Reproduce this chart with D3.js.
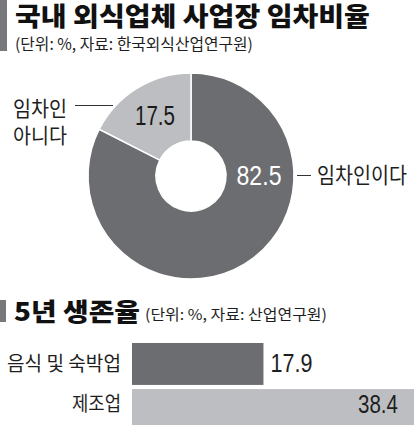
<!DOCTYPE html>
<html><head><meta charset="utf-8">
<script src="https://cdn.jsdelivr.net/npm/d3@7"></script>
<style>html,body{margin:0;padding:0;background:#fff;}svg{display:block;}</style>
</head><body>
<svg id="c" width="414" height="425"></svg>
<script>
const title1 = "국내 외식업체 사업장 임차비율";
const subtitle1 = "(단위: %, 자료: 한국외식산업연구원)";
const pieLabels = ["임차인이다", "임차인 아니다"];
const pieValues = [82.5, 17.5];
const title2 = "5년 생존율";
const subtitle2 = "(단위: %, 자료: 산업연구원)";
const barCategories = ["음식 및 숙박업", "제조업"];
const barValues = [17.9, 38.4];

const DARK = "#6c6d70", LIGHT = "#bdbec1", INK = "#1e1e1e";
const KR = "'Noto Sans CJK KR', 'Noto Sans', sans-serif";
const NUM = "'Liberation Sans Narrow', 'Liberation Sans', Arial, sans-serif";
const svg = d3.select("#c");

// draws text condensed horizontally to a target width via a scale transform
function txt(x, y, s, size, opts = {}) {
  const g = svg.append("g");
  const t = g.append("text").attr("x", 0).attr("y", 0).text(s)
    .attr("font-family", opts.family || KR).attr("font-size", size)
    .attr("font-weight", opts.weight || 400).attr("fill", opts.fill || INK)
    .attr("text-anchor", opts.anchor || "start");
  let sx = 1;
  if (opts.len) {
    const w = t.node().getComputedTextLength();
    if (w > 0) sx = opts.len / w;
  }
  g.attr("transform", `translate(${x},${y}) scale(${sx},1)`);
  return t;
}

// Section 1 header
svg.append("rect").attr("x", 0).attr("y", 0).attr("width", 7).attr("height", 51).attr("fill", "#77787b");
txt(15, 26, title1, 26, {weight: 900, fill: "#111", len: 355});
txt(15, 50, subtitle1, 16, {len: 238});

// Donut
const cx = 191, cy = 176, R = 103, r = 35;
const pie = d3.pie().sort(null).value(d => d);
const arc = d3.arc().innerRadius(r).outerRadius(R);
const g = svg.append("g").attr("transform", `translate(${cx},${cy})`);
g.selectAll("path").data(pie(pieValues)).join("path")
  .attr("d", arc).attr("fill", (d, i) => i === 0 ? DARK : LIGHT)
  .attr("stroke", "#fff").attr("stroke-width", 1.5);

// value labels
txt(259, 185, pieValues[0].toFixed(1), 27, {family: NUM, fill: "#fff", anchor: "middle", len: 45});
txt(155, 125, pieValues[1].toFixed(1), 27, {family: NUM, fill: "#1a1a1a", anchor: "middle", len: 40});

// leader lines and category labels
svg.append("line").attr("x1", 297).attr("x2", 311).attr("y1", 175.5).attr("y2", 175.5).attr("stroke", "#333").attr("stroke-width", 1);
txt(317, 183, pieLabels[0], 22, {len: 90});
svg.append("line").attr("x1", 75).attr("x2", 113).attr("y1", 105.5).attr("y2", 105.5).attr("stroke", "#333").attr("stroke-width", 1);
const parts = pieLabels[1].split(" ");
txt(13, 116, parts[0], 21, {len: 54});
txt(13, 143, parts[1], 21, {len: 54});

// Section 2 header
svg.append("rect").attr("x", 0).attr("y", 300).attr("width", 6).attr("height", 22).attr("fill", "#77787b");
txt(14, 321, title2, 25, {weight: 900, fill: "#111", len: 126});
txt(145, 320, subtitle2, 15, {len: 182});

// Bars
const x = d3.scaleLinear().domain([0, d3.max(barValues)]).range([132, 414]);
const y = d3.scaleBand().domain(barCategories).range([343, 431]).paddingInner(0.09).paddingOuter(0);
svg.selectAll("rect.bar").data(barValues).join("rect").attr("class", "bar")
  .attr("x", x(0)).attr("y", (d, i) => y(barCategories[i]))
  .attr("width", d => x(d) - x(0)).attr("height", y.bandwidth())
  .attr("fill", (d, i) => i === 0 ? DARK : LIGHT);

barCategories.forEach((c, i) => {
  const yc = y(c) + 20 + (i === 0 ? 0 : -6);
  txt(121, yc + 8, c, 20, {anchor: "end", len: i === 0 ? 114 : 49});
});
// value labels
txt(x(barValues[0]) + 7, 372, barValues[0].toFixed(1), 25, {family: NUM, len: 42});
txt(x(barValues[1]) - 16, 413, barValues[1].toFixed(1), 25, {family: NUM, anchor: "end", len: 40});
</script>
</body></html>
